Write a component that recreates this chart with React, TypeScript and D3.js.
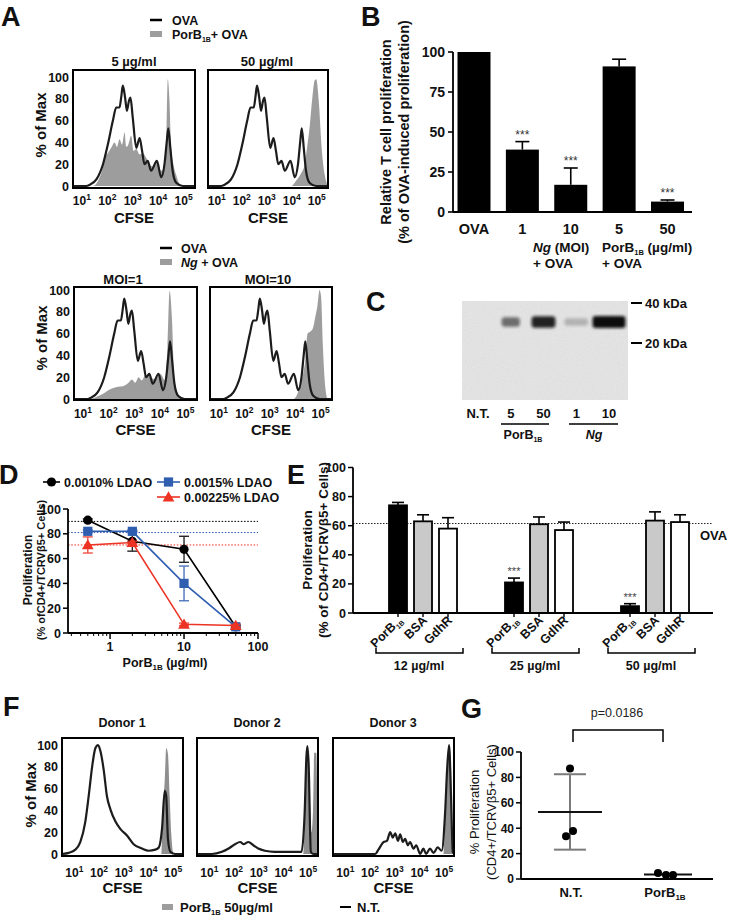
import React from "react";
import * as d3 from "d3";

const FONT = '"Liberation Sans", Arial, Helvetica, sans-serif';
type Pt = [number, number];

// ---------- Panel A : CFSE histograms  [log10 CFSE, % of Max] ----------
const ovaHistogram: Pt[] = [
  [0.65, 0], [1.17, 0], [1.3, 1], [1.57, 6], [1.83, 20], [2.02, 38], [2.22, 60], [2.35, 72], [2.48, 72],
  [2.55, 82], [2.61, 92], [2.7, 81], [2.77, 69], [2.85, 78], [2.91, 81], [3.0, 63], [3.14, 35], [3.27, 44],
  [3.37, 32], [3.46, 20], [3.59, 23], [3.72, 14], [3.95, 23], [4.12, 8], [4.25, 20], [4.34, 41], [4.4, 53],
  [4.48, 35], [4.57, 14], [4.71, 3], [4.97, 0], [5.45, 0],
];
const porB5Histogram: Pt[] = [
  [0.65, 0], [1.43, 0], [1.7, 8], [1.83, 18], [1.89, 26], [2.02, 30], [2.15, 35], [2.29, 40], [2.38, 36],
  [2.48, 43], [2.58, 38], [2.68, 49], [2.74, 36], [2.81, 37], [2.94, 46], [3.03, 32], [3.14, 34], [3.27, 29],
  [3.4, 30], [3.53, 26], [3.66, 20], [3.79, 18], [3.95, 23], [4.12, 14], [4.25, 16], [4.31, 30], [4.38, 98],
  [4.44, 81], [4.51, 35], [4.6, 20], [4.71, 10], [4.84, 2], [4.97, 0], [5.45, 0],
];
const porB50Histogram: Pt[] = [
  [0.65, 0], [3.98, 0], [4.18, 5], [4.38, 12], [4.52, 20], [4.61, 35], [4.72, 55], [4.82, 80], [4.92, 97],
  [4.98, 98], [5.09, 75], [5.18, 40], [5.32, 10], [5.41, 2], [5.45, 0],
];
const ngMoi1Histogram: Pt[] = [
  [0.65, 0], [1.27, 0], [1.54, 2], [1.8, 5], [2.06, 9], [2.32, 11], [2.58, 12], [2.78, 15], [2.91, 18],
  [3.04, 15], [3.17, 20], [3.3, 17], [3.43, 22], [3.63, 20], [3.82, 18], [4.02, 23], [4.21, 17], [4.3, 49],
  [4.38, 99], [4.47, 75], [4.56, 20], [4.67, 7], [4.86, 0], [5.45, 0],
];
const ngMoi10Histogram: Pt[] = [
  [0.65, 0], [3.94, 0], [4.13, 7], [4.26, 17], [4.4, 36], [4.49, 60], [4.6, 62], [4.7, 65], [4.79, 75],
  [4.88, 86], [4.96, 100], [5.02, 94], [5.09, 49], [5.19, 10], [5.28, 0], [5.45, 0],
];

// ---------- Panel F : human donors ----------
const donor1NT: Pt[] = [
  [0.5, 0], [0.77, 1], [1.04, 4], [1.24, 11], [1.44, 29], [1.58, 53], [1.72, 80], [1.85, 97], [1.96, 100],
  [2.05, 95], [2.19, 77], [2.32, 53], [2.46, 41], [2.66, 30], [2.86, 23], [3.13, 17], [3.4, 9], [3.74, 5],
  [4.01, 3], [4.28, 4], [4.42, 6], [4.55, 23], [4.66, 58], [4.72, 53], [4.79, 14], [4.89, 2], [5.09, 0], [5.4, 0],
];
const donor1PorB: Pt[] = [
  [0.5, 0], [4.52, 0], [4.58, 38], [4.66, 68], [4.72, 97], [4.79, 92], [4.86, 53], [4.93, 17], [5.02, 0], [5.4, 0],
];
const donor2NT: Pt[] = [
  [0.5, 0], [1.1, 0], [1.51, 2], [1.78, 5], [2.04, 9], [2.25, 11], [2.38, 9], [2.58, 11], [2.78, 8], [2.98, 5],
  [3.25, 3], [3.65, 2], [4.19, 2], [4.73, 2], [4.86, 38], [4.93, 89], [4.97, 99], [5.02, 83], [5.11, 2], [5.2, 0], [5.4, 0],
];
const donor2PorB: Pt[] = [
  [0.5, 0], [4.8, 0], [4.89, 55], [4.97, 97], [5.05, 65], [5.13, 20], [5.2, 40], [5.25, 93], [5.33, 93], [5.39, 0],
];
const donor3NT: Pt[] = [
  [0.5, 0], [2.21, 0], [2.34, 4], [2.55, 11], [2.68, 12], [2.82, 20], [2.92, 15], [3.02, 19], [3.13, 12],
  [3.22, 18], [3.33, 11], [3.42, 14], [3.53, 8], [3.62, 11], [3.76, 5], [3.87, 8], [4.03, 0], [4.16, 5],
  [4.27, 0], [4.43, 5], [4.57, 1], [4.74, 6], [4.9, 3], [5.04, 38], [5.12, 77], [5.2, 100], [5.28, 53], [5.35, 2], [5.4, 0],
];
const donor3PorB: Pt[] = [
  [0.5, 0], [4.97, 0], [5.06, 50], [5.15, 85], [5.21, 98], [5.28, 80], [5.33, 20], [5.39, 0],
];

const histYTicks = [0, 20, 40, 60, 80, 100];
const cfseDecades = [1, 2, 3, 4, 5];
const donorNames = ["Donor 1", "Donor 2", "Donor 3"];

// ---------- Panel B ----------
const bCategories = ["OVA", "1", "10", "5", "50"];
const bValues = [100, 39, 17, 91, 6.5];
const bErrors = [0, 5, 10.5, 4.5, 1];
const bSignif = ["", "***", "***", "", "***"];
const bTicks = [0, 25, 50, 75, 100];

// ---------- Panel C (blot) ----------
const blotLanes = ["N.T.", "5", "50", "1", "10"];
const blotIntensity = [0, 0.55, 0.9, 0.22, 1];
const blotBandSpread = [0, 0.55, 0.72, 0.72, 1];

// ---------- Panel D ----------
const dDoses = [0.5, 2, 10, 50];
const dLDAO0010 = [91, 74, 67.5, 5];
const dLDAO0010Err = [1, 8, 10.5, 1];
const dLDAO0015 = [82, 82, 40, 5];
const dLDAO0015Err = [1, 1, 14, 2];
const dLDAO00225 = [71, 73, 7, 6];
const dLDAO00225Err = [6.5, 1, 1, 1];
const dBaselines = [90, 81, 71];
const dXTicks = [1, 10, 100];
const dYTicks = [0, 20, 40, 60, 80, 100];

// ---------- Panel E ----------
const eGroups = ["12 µg/ml", "25 µg/ml", "50 µg/ml"];
const eProteins = ["PorB", "BSA", "GdhR"];
const ePorB = [74, 21, 4.7];
const ePorBErr = [2, 3, 1.7];
const eBSA = [63, 61, 63.5];
const eBSAErr = [4.5, 5, 6];
const eGdhR = [58, 57, 62.5];
const eGdhRErr = [7.5, 5.5, 5];
const eSignif = [["", "", ""], ["***", "", ""], ["***", "", ""]];
const eOVA = 61.5;
const eYTicks = [0, 20, 40, 60, 80, 100];

// ---------- Panel G ----------
const gGroups = ["N.T.", "PorB"];
const gNT = [87, 37.8, 33.6];
const gPorB = [4.7, 3.1, 3.1];
const gNTJitter = [0, 3, -4];
const gPorBJitter = [-10, -2, 5];
const gYTicks = [0, 20, 40, 60, 80, 100];

const B = { fontFamily: FONT, fontWeight: "bold" as const, fill: "#111" };

function Histo(props: {
  left: number; top: number; width: number; height: number; domain: [number, number];
  line?: Pt[]; fill?: Pt[]; padTop: number; padBottom: number; yLabels?: boolean;
  xLabelY: number; cfseY: number; fillColor?: string;
}) {
  const { left, top, width, height, domain, line, fill, padTop, padBottom, yLabels, xLabelY, cfseY } = props;
  const x = d3.scaleLinear().domain(domain).range([left, left + width]);
  const y = d3.scaleLinear().domain([0, 100]).range([top + height - padBottom, top + padTop]);
  const area = d3.area<Pt>().x((d) => x(d[0])).y0(y(0)).y1((d) => y(d[1])).curve(d3.curveMonotoneX);
  const ln = d3.line<Pt>().x((d) => x(d[0])).y((d) => y(d[1])).curve(d3.curveMonotoneX);
  const id = `clip_${left}_${top}`;
  return (
    <g>
      <clipPath id={id}>
        <rect x={left} y={top} width={width} height={height} />
      </clipPath>
      <g clipPath={`url(#${id})`}>
        {fill && <path d={area(fill) || ""} fill={props.fillColor || "#9d9d9d"} />}
        {line && <path d={ln(line) || ""} fill="none" stroke="#1c1c1c" strokeWidth={2.2} strokeLinejoin="round" />}
      </g>
      <rect x={left} y={top} width={width} height={height} fill="none" stroke="#000" strokeWidth={2} />
      {yLabels &&
        histYTicks.map((t) => (
          <text key={t} {...B} x={left - 4} y={y(t)} dy="0.36em" textAnchor="end" fontSize={12.5}>
            {t}
          </text>
        ))}
      {cfseDecades.map((d) => (
        <text key={d} {...B} x={x(d)} y={xLabelY} textAnchor="middle" fontSize={12}>
          10<tspan dy={-5} fontSize={8.5}>{d}</tspan>
        </text>
      ))}
      <text {...B} x={left + width / 2} y={cfseY} textAnchor="middle" fontSize={15}>
        CFSE
      </text>
    </g>
  );
}

function VLabel({ x, y, size, children, weight = "bold" }: any) {
  return (
    <text {...B} fontWeight={weight} fontSize={size} transform={`translate(${x},${y}) rotate(-90)`} textAnchor="middle" dy="0.35em">
      {children}
    </text>
  );
}

function PanelA() {
  const dom: [number, number] = [0.65, 5.45];
  return (
    <g>
      <text {...B} x={1} y={26} fontSize={27}>A</text>
      <line x1={150} x2={162} y1={20} y2={20} stroke="#000" strokeWidth={2.5} />
      <text {...B} x={172} y={25} fontSize={12.5}>OVA</text>
      <rect x={150} y={31} width={12} height={6} fill="#9d9d9d" />
      <text {...B} x={172} y={39} fontSize={12.5}>
        PorB<tspan dy={3} fontSize={7}>1B</tspan><tspan dy={-3}>+ OVA</tspan>
      </text>
      <text {...B} x={134} y={66} textAnchor="middle" fontSize={13}>5 µg/ml</text>
      <text {...B} x={267} y={66} textAnchor="middle" fontSize={13}>50 µg/ml</text>
      <VLabel x={41} y={125} size={15}>% of Max</VLabel>
      <Histo left={73} top={70} width={122} height={118} domain={dom} line={ovaHistogram} fill={porB5Histogram}
        padTop={7} padBottom={2} yLabels xLabelY={205} cfseY={223} />
      <Histo left={208} top={70} width={120} height={118} domain={dom} line={ovaHistogram} fill={porB50Histogram}
        padTop={7} padBottom={2} xLabelY={205} cfseY={223} />

      <line x1={160} x2={172} y1={248} y2={248} stroke="#000" strokeWidth={2.5} />
      <text {...B} x={181} y={253} fontSize={12.5}>OVA</text>
      <rect x={160} y={259} width={12} height={6} fill="#9d9d9d" />
      <text {...B} x={181} y={267} fontSize={12.5}>
        <tspan fontStyle="italic">Ng</tspan> + OVA
      </text>
      <text {...B} x={123} y={284} textAnchor="middle" fontSize={13}>MOI=1</text>
      <text {...B} x={268} y={284} textAnchor="middle" fontSize={13}>MOI=10</text>
      <VLabel x={42} y={338} size={15}>% of Max</VLabel>
      <Histo left={74} top={287} width={123} height={113} domain={dom} line={ovaHistogram} fill={ngMoi1Histogram}
        padTop={3} padBottom={1} yLabels xLabelY={418} cfseY={435} />
      <Histo left={210} top={287} width={122} height={113} domain={dom} line={ovaHistogram} fill={ngMoi10Histogram}
        padTop={3} padBottom={1} xLabelY={418} cfseY={435} />
    </g>
  );
}

function PanelB() {
  const x = d3.scalePoint<string>().domain(bCategories).range([474, 667.5]);
  const y = d3.scaleLinear().domain([0, 100]).range([212, 52]);
  const bw = 33;
  return (
    <g>
      <text {...B} x={361} y={26} fontSize={27}>B</text>
      <VLabel x={386} y={132} size={14.5}>Relative T cell proliferation</VLabel>
      <VLabel x={404} y={132} size={14.5}>(% of OVA-induced proliferation)</VLabel>
      {bCategories.map((c, i) => (
        <g key={c}>
          <rect x={x(c)! - bw / 2} y={y(bValues[i])} width={bw} height={y(0) - y(bValues[i])} fill="#000" />
          {bErrors[i] > 0 && (
            <g stroke="#000" strokeWidth={1.6}>
              <line x1={x(c)!} x2={x(c)!} y1={y(bValues[i])} y2={y(bValues[i] + bErrors[i])} />
              <line x1={x(c)! - 7} x2={x(c)! + 7} y1={y(bValues[i] + bErrors[i])} y2={y(bValues[i] + bErrors[i])} />
            </g>
          )}
          {bSignif[i] && (
            <text x={x(c)!} y={y(bValues[i] + bErrors[i]) - 3} textAnchor="middle" fontFamily={FONT} fontSize={12} fill="#333">
              {bSignif[i]}
            </text>
          )}
          <text {...B} x={x(c)!} y={234} textAnchor="middle" fontSize={14.5}>{c}</text>
        </g>
      ))}
      <line x1={453} x2={453} y1={y(100)} y2={y(0)} stroke="#000" strokeWidth={1.8} />
      <line x1={453} x2={692} y1={y(0)} y2={y(0)} stroke="#000" strokeWidth={1.8} />
      {bTicks.map((t) => (
        <g key={t}>
          <line x1={448} x2={453} y1={y(t)} y2={y(t)} stroke="#000" strokeWidth={1.6} />
          <text {...B} x={445} y={y(t)} dy="0.36em" textAnchor="end" fontSize={14}>{t}</text>
        </g>
      ))}
      <text {...B} x={533} y={252} fontSize={13.5}>
        <tspan fontStyle="italic">Ng</tspan> (MOI)
      </text>
      <text {...B} x={533} y={268} fontSize={13.5}>+ OVA</text>
      <text {...B} x={602} y={252} fontSize={13.5}>
        PorB<tspan dy={3} fontSize={7.5}>1B</tspan><tspan dy={-3}> (µg/ml)</tspan>
      </text>
      <text {...B} x={602} y={268} fontSize={13.5}>+ OVA</text>
    </g>
  );
}

function PanelC() {
  const lane = d3.scalePoint<string>().domain(blotLanes).range([478, 609]);
  return (
    <g>
      <text {...B} x={366} y={311} fontSize={27}>C</text>
      <defs>
        <filter id="blur1" x="-50%" y="-100%" width="200%" height="300%">
          <feGaussianBlur stdDeviation="1.6" />
        </filter>
        <filter id="grain" x="0" y="0" width="100%" height="100%">
          <feTurbulence type="fractalNoise" baseFrequency="0.8" numOctaves="2" seed="3" result="n" />
          <feColorMatrix in="n" type="matrix" values="0 0 0 0 0.55  0 0 0 0 0.55  0 0 0 0 0.55  0 0 0 0.35 0" />
        </filter>
      </defs>
      <rect x={462} y={301} width={166} height={99} fill="#e8e8e8" />
      <rect x={462} y={301} width={166} height={99} filter="url(#grain)" />
      {blotLanes.map((l, i) =>
        blotIntensity[i] > 0 ? (
          <rect key={l} x={lane(l)! - (blotBandSpread[i] * 33) / 2} y={322 - (3 + blotIntensity[i] * 3)}
            width={blotBandSpread[i] * 33} height={(3 + blotIntensity[i] * 3) * 2} rx={3}
            fill="#111" opacity={blotIntensity[i]} filter="url(#blur1)" />
        ) : null
      )}
      <line x1={631} x2={642} y1={303} y2={303} stroke="#000" strokeWidth={2} />
      <text {...B} x={645} y={308} fontSize={13}>40 kDa</text>
      <line x1={631} x2={642} y1={343} y2={343} stroke="#000" strokeWidth={2} />
      <text {...B} x={645} y={348} fontSize={13}>20 kDa</text>
      {blotLanes.map((l) => (
        <text key={l} {...B} x={lane(l)!} y={418} textAnchor="middle" fontSize={13}>{l}</text>
      ))}
      <line x1={501} x2={549} y1={424} y2={424} stroke="#000" strokeWidth={1.5} />
      <line x1={569} x2={618} y1={424} y2={424} stroke="#000" strokeWidth={1.5} />
      <text {...B} x={523} y={439} textAnchor="middle" fontSize={12.5}>
        PorB<tspan dy={3} fontSize={7}>1B</tspan>
      </text>
      <text {...B} x={594} y={439} textAnchor="middle" fontSize={12.5} fontStyle="italic">Ng</text>
    </g>
  );
}

function Marker({ kind, x, y, color }: { kind: string; x: number; y: number; color: string }) {
  if (kind === "circle") return <circle cx={x} cy={y} r={4.6} fill={color} />;
  if (kind === "square") return <rect x={x - 4.6} y={y - 4.6} width={9.2} height={9.2} fill={color} />;
  return <path d={d3.symbol().type(d3.symbolTriangle).size(60)() || ""} transform={`translate(${x},${y + 1})`} fill={color} />;
}

function PanelD() {
  const x = d3.scaleLog().domain([0.27, 100]).range([68, 258]);
  const y = d3.scaleLinear().domain([0, 100]).range([633, 509]);
  const series = [
    { vals: dLDAO0010, err: dLDAO0010Err, color: "#000", kind: "circle", base: dBaselines[0] },
    { vals: dLDAO0015, err: dLDAO0015Err, color: "#2f5db0", kind: "square", base: dBaselines[1] },
    { vals: dLDAO00225, err: dLDAO00225Err, color: "#ec3324", kind: "triangle", base: dBaselines[2] },
  ];
  const minor: number[] = [];
  [0.1, 1, 10].forEach((dec) => [2, 3, 4, 5, 6, 7, 8, 9].forEach((m) => { const v = dec * m; if (v >= 0.27 && v < 100) minor.push(v); }));
  const line = d3.line<number>().x((_, i) => x(dDoses[i])).y((v) => y(v));
  return (
    <g>
      <text {...B} x={-1} y={484} fontSize={27}>D</text>
      <line x1={43} x2={60} y1={482} y2={482} stroke="#000" strokeWidth={1.6} />
      <Marker kind="circle" x={51.5} y={482} color="#000" />
      <text {...B} x={64} y={487} fontSize={12.5}>0.0010% LDAO</text>
      <line x1={157} x2={180} y1={482} y2={482} stroke="#2f5db0" strokeWidth={1.6} />
      <Marker kind="square" x={168.5} y={482} color="#2f5db0" />
      <text {...B} x={184} y={487} fontSize={12.5}>0.0015% LDAO</text>
      <line x1={157} x2={180} y1={497} y2={497} stroke="#ec3324" strokeWidth={1.6} />
      <Marker kind="triangle" x={168.5} y={497} color="#ec3324" />
      <text {...B} x={184} y={502} fontSize={12.5}>0.00225% LDAO</text>

      {series.map((s, k) => (
        <line key={k} x1={68} x2={258} y1={y(s.base)} y2={y(s.base)} stroke={s.color} strokeWidth={1} strokeDasharray="1.6,1.6" />
      ))}
      {series.map((s, k) => (
        <g key={k}>
          <path d={line(s.vals) || ""} fill="none" stroke={s.color} strokeWidth={1.6} />
          {s.vals.map((v, i) => (
            <g key={i} stroke={s.color} strokeWidth={1.4} opacity={0.85}>
              <line x1={x(dDoses[i])} x2={x(dDoses[i])} y1={y(v - s.err[i])} y2={y(v + s.err[i])} />
              <line x1={x(dDoses[i]) - 5} x2={x(dDoses[i]) + 5} y1={y(v - s.err[i])} y2={y(v - s.err[i])} />
              <line x1={x(dDoses[i]) - 5} x2={x(dDoses[i]) + 5} y1={y(v + s.err[i])} y2={y(v + s.err[i])} />
            </g>
          ))}
          {s.vals.map((v, i) => (
            <Marker key={"m" + i} kind={s.kind} x={x(dDoses[i])} y={y(v)} color={s.color} />
          ))}
        </g>
      ))}
      <line x1={68} x2={68} y1={y(0)} y2={y(100)} stroke="#000" strokeWidth={1.8} />
      <line x1={68} x2={258} y1={y(0)} y2={y(0)} stroke="#000" strokeWidth={1.8} />
      {dYTicks.map((t) => (
        <g key={t}>
          <line x1={63} x2={68} y1={y(t)} y2={y(t)} stroke="#000" strokeWidth={1.5} />
          <text {...B} x={61} y={y(t)} dy="0.36em" textAnchor="end" fontSize={12.5}>{t}</text>
        </g>
      ))}
      {minor.map((m) => (
        <line key={m} x1={x(m)} x2={x(m)} y1={y(0)} y2={y(0) + 3} stroke="#000" strokeWidth={1} />
      ))}
      {dXTicks.map((t) => (
        <g key={t}>
          <line x1={x(t)} x2={x(t)} y1={y(0)} y2={y(0) + 6} stroke="#000" strokeWidth={1.5} />
          <text {...B} x={x(t)} y={651} textAnchor="middle" fontSize={12.5}>{t}</text>
        </g>
      ))}
      <text {...B} x={165} y={667} textAnchor="middle" fontSize={12.5}>
        PorB<tspan dy={3} fontSize={8}>1B</tspan><tspan dy={-3}> (µg/ml)</tspan>
      </text>
      <VLabel x={28} y={570} size={12}>Proliferation</VLabel>
      <VLabel x={41} y={570} size={11}>(% ofCD4+/TCRVβ5+ Cells)</VLabel>
    </g>
  );
}

function PanelE() {
  const gx = d3.scalePoint<string>().domain(eGroups).range([423, 655]);
  const inner = d3.scalePoint<string>().domain(eProteins).range([-25, 25]);
  const y = d3.scaleLinear().domain([0, 100]).range([613, 467.5]);
  const bw = 18;
  const series = [
    { key: "PorB", vals: ePorB, err: ePorBErr, fill: "#000" },
    { key: "BSA", vals: eBSA, err: eBSAErr, fill: "#c9c9c9" },
    { key: "GdhR", vals: eGdhR, err: eGdhRErr, fill: "#fff" },
  ];
  return (
    <g>
      <text {...B} x={287} y={484} fontSize={27}>E</text>
      <VLabel x={307} y={550} size={13.5}>Proliferation</VLabel>
      <VLabel x={323} y={550} size={13.5}>(% of CD4+/TCRVβ5+ Cells)</VLabel>
      <line x1={353} x2={713} y1={y(eOVA)} y2={y(eOVA)} stroke="#222" strokeWidth={1} strokeDasharray="1.5,1.5" />
      <text {...B} x={700} y={540} fontSize={13}>OVA</text>
      {eGroups.map((g, gi) => (
        <g key={g}>
          {series.map((s, si) => {
            const cx = gx(g)! + inner(s.key)!;
            const v = s.vals[gi];
            const top = y(v + s.err[gi]);
            return (
              <g key={s.key}>
                <g stroke="#000" strokeWidth={1.6}>
                  <line x1={cx} x2={cx} y1={y(v)} y2={top} />
                  <line x1={cx - 6} x2={cx + 6} y1={top} y2={top} />
                </g>
                <rect x={cx - bw / 2} y={y(v)} width={bw} height={y(0) - y(v)} fill={s.fill} stroke="#000" strokeWidth={1.8} />
                <line x1={cx} x2={cx} y1={y(0)} y2={y(0) + 4} stroke="#000" strokeWidth={1.4} />
                {eSignif[gi][si] && (
                  <text x={cx} y={top - 3} textAnchor="middle" fontFamily={FONT} fontSize={11} fill="#444">{eSignif[gi][si]}</text>
                )}
                <text {...B} fontSize={12.5} textAnchor="end" transform={`translate(${cx + 5},${621}) rotate(-45)`}>
                  {s.key === "PorB" ? (
                    <>PorB<tspan dy={3} fontSize={7}>1B</tspan></>
                  ) : s.key}
                </text>
              </g>
            );
          })}
          <path d={`M${gx(g)! - 47},648 V653 H${gx(g)! + 40} V648`} fill="none" stroke="#000" strokeWidth={1.5} />
          <text {...B} x={gx(g)! - 4} y={670} textAnchor="middle" fontSize={12.5}>{g}</text>
        </g>
      ))}
      <line x1={353} x2={353} y1={y(0)} y2={y(100)} stroke="#000" strokeWidth={1.8} />
      <line x1={353} x2={713} y1={y(0)} y2={y(0)} stroke="#000" strokeWidth={1.8} />
      {eYTicks.map((t) => (
        <g key={t}>
          <line x1={348} x2={353} y1={y(t)} y2={y(t)} stroke="#000" strokeWidth={1.5} />
          <text {...B} x={346} y={y(t)} dy="0.36em" textAnchor="end" fontSize={12.5}>{t}</text>
        </g>
      ))}
    </g>
  );
}

function PanelF() {
  const dom: [number, number] = [0.5, 5.4];
  const lefts = [62, 197, 333];
  const lines = [donor1NT, donor2NT, donor3NT];
  const fills = [donor1PorB, donor2PorB, donor3PorB];
  return (
    <g>
      <text {...B} x={3} y={716} fontSize={27}>F</text>
      <VLabel x={31} y={795} size={15}>% of Max</VLabel>
      {donorNames.map((n, i) => (
        <g key={n}>
          <text {...B} x={lefts[i] + 60} y={727} textAnchor="middle" fontSize={12.5}>{n}</text>
          <Histo left={lefts[i]} top={738} width={121} height={118} domain={dom} fill={fills[i]} line={lines[i]}
            fillColor="#8f8f8f" padTop={7} padBottom={2} yLabels={i === 0} xLabelY={877} cfseY={893} />
        </g>
      ))}
      <rect x={162} y={904} width={11} height={6} fill="#9d9d9d" />
      <text {...B} x={180} y={912} fontSize={13}>
        PorB<tspan dy={3} fontSize={7.5}>1B</tspan><tspan dy={-3}> 50µg/ml</tspan>
      </text>
      <line x1={340} x2={351} y1={907} y2={907} stroke="#000" strokeWidth={2} />
      <text {...B} x={357} y={912} fontSize={13}>N.T.</text>
    </g>
  );
}

function PanelG() {
  const x = d3.scalePoint<string>().domain(gGroups).range([570, 668]);
  const y = d3.scaleLinear().domain([0, 100]).range([879, 752]);
  const ntMean = d3.mean(gNT)!;
  const ntSD = d3.deviation(gNT)!;
  const pbMean = d3.mean(gPorB)!;
  const cNT = x("N.T.")!;
  const cPB = x("PorB")!;
  return (
    <g>
      <text {...B} x={461} y={718} fontSize={27}>G</text>
      <VLabel x={474} y={812} size={13} weight="normal">% Proliferation</VLabel>
      <VLabel x={491} y={812} size={13} weight="normal">(CD4+/TCRVβ5+ Cells)</VLabel>
      <text x={617} y={717} textAnchor="middle" fontFamily={FONT} fontSize={12.5} fill="#222">p=0.0186</text>
      <path d={`M${cNT + 3},742 V730 H${cPB - 5} V742`} fill="none" stroke="#000" strokeWidth={1.5} />
      <g stroke="#7a7a7a" strokeWidth={2}>
        <line x1={cNT} x2={cNT} y1={y(ntMean - ntSD)} y2={y(ntMean + ntSD)} />
        <line x1={cNT - 16} x2={cNT + 16} y1={y(ntMean + ntSD)} y2={y(ntMean + ntSD)} />
        <line x1={cNT - 16} x2={cNT + 16} y1={y(ntMean - ntSD)} y2={y(ntMean - ntSD)} />
      </g>
      <line x1={cNT - 32} x2={cNT + 32} y1={y(ntMean)} y2={y(ntMean)} stroke="#111" strokeWidth={2} />
      <line x1={cPB - 24} x2={cPB + 24} y1={y(pbMean)} y2={y(pbMean)} stroke="#111" strokeWidth={2} />
      {gNT.map((v, i) => (
        <circle key={i} cx={cNT + gNTJitter[i]} cy={y(v)} r={4} fill="#000" />
      ))}
      {gPorB.map((v, i) => (
        <circle key={i} cx={cPB + gPorBJitter[i]} cy={y(v)} r={4} fill="#000" />
      ))}
      <line x1={521} x2={521} y1={y(0)} y2={y(100)} stroke="#000" strokeWidth={1.8} />
      <line x1={521} x2={713} y1={y(0)} y2={y(0)} stroke="#000" strokeWidth={1.8} />
      {gYTicks.map((t) => (
        <g key={t}>
          <line x1={516} x2={521} y1={y(t)} y2={y(t)} stroke="#000" strokeWidth={1.5} />
          <text {...B} x={514} y={y(t)} dy="0.36em" textAnchor="end" fontSize={12}>{t}</text>
        </g>
      ))}
      <text {...B} x={571} y={897} textAnchor="middle" fontSize={13}>N.T.</text>
      <text {...B} x={665} y={897} textAnchor="middle" fontSize={13}>
        PorB<tspan dy={3} fontSize={8}>1B</tspan>
      </text>
    </g>
  );
}

export default function App() {
  return (
    <svg width={745} height={917} viewBox="0 0 745 917" style={{ position: "absolute", left: 0, top: 0, background: "#fff" }}>
      <rect width={745} height={917} fill="#fff" />
      <PanelA />
      <PanelB />
      <PanelC />
      <PanelD />
      <PanelE />
      <PanelF />
      <PanelG />
    </svg>
  );
}
